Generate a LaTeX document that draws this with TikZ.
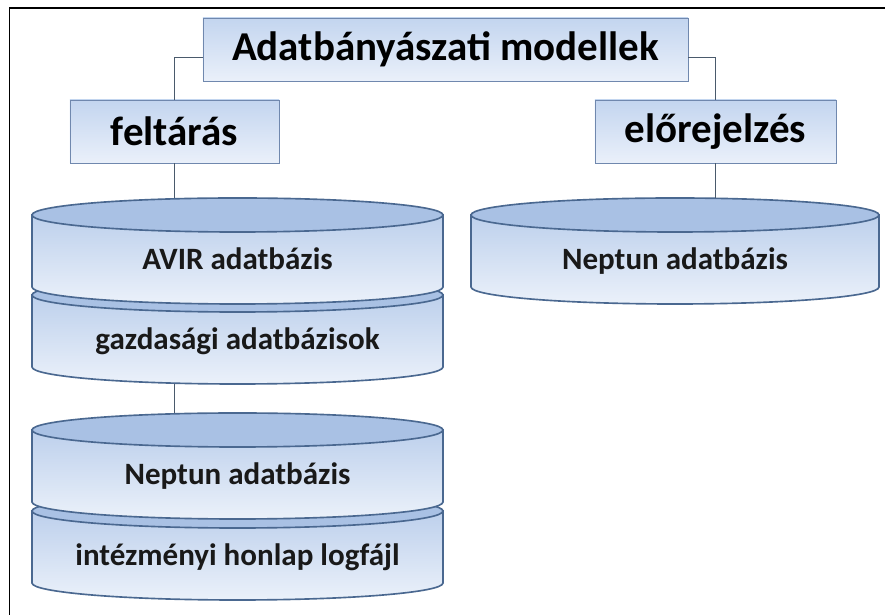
\documentclass[tikz,border=0pt]{standalone}
\usepackage{fontspec}
\setmainfont{Carlito}
\usepackage{tikz}
\usepackage{xcolor}
\usetikzlibrary{shadows}

\definecolor{boxline}{HTML}{7088AE}
\definecolor{boxtop}{HTML}{C3D5EF}
\definecolor{boxbot}{HTML}{EAF0FA}
\definecolor{dbline}{HTML}{4A6890}
\definecolor{dbend}{HTML}{A9C1E4}
\definecolor{dbtop}{HTML}{BDD0EC}
\definecolor{dbbot}{HTML}{EBF1FA}
\definecolor{conn}{HTML}{4A5A6C}

\begin{document}
\begin{tikzpicture}[x=0.03cm, y=0.03cm,
    modelbox/.style={draw=boxline, line width=0.8pt, top color=boxtop, bottom color=boxbot,
      drop shadow={opacity=0.35, shadow xshift=1.2pt, shadow yshift=-1.2pt},
      inner sep=0pt, minimum height=1.89cm, font=\fontsize{35}{38}\selectfont\bfseries},
    dbtext/.style={font=\fontsize{26.5}{28}\selectfont\bfseries, text=black!90, text height=1.5ex, text depth=.3ex},
    link/.style={draw=conn, line width=1.1pt}]
  \useasboundingbox (0,0) rectangle (885,615);
  % Keret
  \draw[line width=1pt] (9.5,0) -- (9.5,607) -- (885,607);
  % Modellek
  \node[modelbox, minimum width=14.55cm] (title) at (445.5,565.5) {Adatbányászati modellek};
  \node[modelbox, minimum width=6.27cm] (felt) at (174.5,483.5) {feltárás};
  \node[modelbox, minimum width=7.23cm] (elo) at (715.5,483.5) {előrejelzés};
  % Adatbázisok (alsó előbb, hogy a felső takarja)
  \foreach \nm/\cx/\ty/\rx/\txt in {gazd/237.5/320/205.5/{gazdasági adatbázisok},
      avir/237.5/400/205.5/{AVIR adatbázis},
      inth/237.5/104/205.5/{intézményi honlap logfájl},
      nepl/237.5/185/205.5/{Neptun adatbázis},
      nepr/675/400/204/{Neptun adatbázis}} {
    \path[draw=dbline, line width=1.4pt, top color=dbtop, bottom color=dbbot]
      ({\cx-\rx},\ty) -- ({\cx-\rx},\ty-72)
      arc[start angle=180, end angle=360, x radius=\rx, y radius=17]
      -- ({\cx+\rx},\ty) -- cycle;
    \draw[dbline, line width=1.4pt, fill=dbend] (\cx,\ty) ellipse[x radius=\rx, y radius=17];
    \coordinate (\nm top) at (\cx,\ty+17);
    \coordinate (\nm bot) at (\cx,\ty-89);
    \node[dbtext] (\nm) at (\cx,\ty-51) {\txt};
  }
  % Kapcsolatok
  \draw[link] ([yshift=-0.25cm]title.west) -| (felt.north);
  \draw[link] ([yshift=-0.25cm]title.east) -| (elo.north);
  \draw[link] (felt.south) -- (felt.south |- avirtop);
  \draw[link] (elo.south) -- (elo.south |- neprtop);
  \draw[link] (felt.south |- gazdbot) -- (felt.south |- nepltop);
\end{tikzpicture}
\end{document}
